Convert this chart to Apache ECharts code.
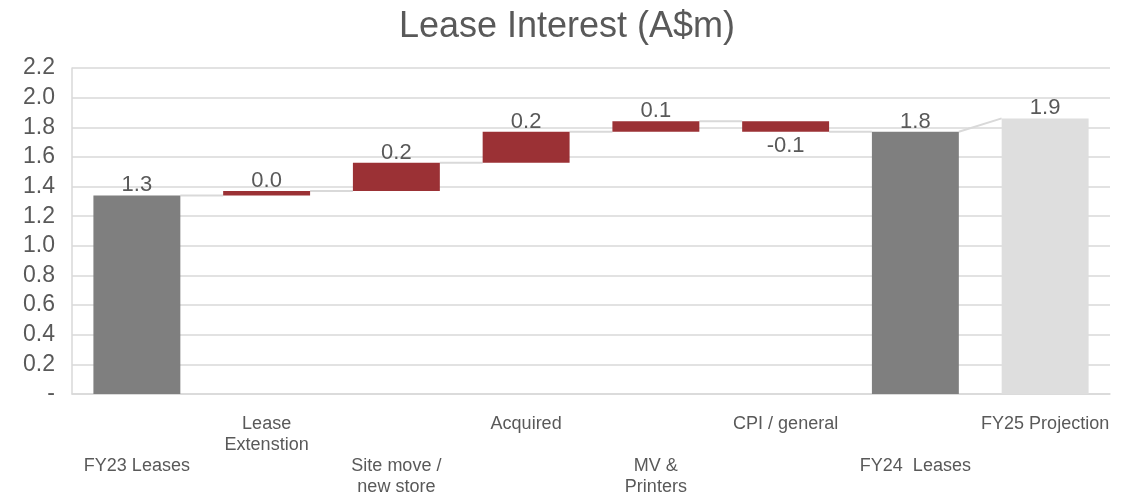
<!DOCTYPE html>
<html>
<head>
<meta charset="utf-8">
<script src="https://cdn.jsdelivr.net/npm/echarts@6/dist/echarts.min.js"></script>
<style>
  html, body { margin: 0; padding: 0; background: #fff; }
  #chart { width: 1134px; height: 499px; }
</style>
</head>
<body>
<div id="chart"></div>
<script>
// waterfall data
var categories = ['FY23 Leases', 'Lease\nExtenstion', 'Site move /\nnew store', 'Acquired',
                  'MV &\nPrinters', 'CPI / general', 'FY24  Leases', 'FY25 Projection'];
var values = [1.34, 0.03, 0.19, 0.21, 0.07, -0.07, 1.77, 1.86];
var kinds = ['total', 'delta', 'delta', 'delta', 'delta', 'delta', 'total', 'projection'];
var yTicks = [0, 0.2, 0.4, 0.6, 0.8, 1.0, 1.2, 1.4, 1.6, 1.8, 2.0, 2.2];

var colors = { total: '#7f7f7f', projection: '#dedede', delta: '#9b3135' };

// build invisible base + visible part of each bar
var baseData = [], barData = [], starts = [], ends = [];
var running = 0;
for (var i = 0; i < values.length; i++) {
    var v = values[i];
    var start, end, base, h;
    if (kinds[i] === 'delta') {
        start = running;
        end = running + v;
        base = Math.min(start, end);
        h = Math.abs(v);
    } else {
        start = v; // connectors meet totals at their top
        end = v;
        base = 0;
        h = v;
    }
    running = end;
    starts.push(start);
    ends.push(end);
    baseData.push(base);
    barData.push({
        value: h,
        raw: v,
        itemStyle: { color: colors[kinds[i]] },
        label: v < 0 ? { position: 'bottom', distance: 3 } : { position: 'top', distance: -1 }
    });
}

// connector lines between neighbouring bars
var connectors = [];
for (var j = 0; j < values.length - 1; j++) {
    connectors.push([j, ends[j], starts[j + 1]]);
}

var BAR_FRAC = 0.67;
var chart = echarts.init(document.getElementById('chart'));
chart.setOption({
    animation: false,
    textStyle: { fontFamily: 'Liberation Sans, Arial, sans-serif' },
    title: {
        text: 'Lease Interest (A$m)',
        left: 'center',
        top: 4,
        textStyle: { fontSize: 36, fontWeight: 'normal', color: '#595959' }
    },
    grid: { left: 72, right: 24, top: 68, bottom: 105 },
    xAxis: {
        type: 'category',
        data: categories,
        axisLine: { lineStyle: { color: '#d9d9d9', width: 1.5 } },
        axisTick: { show: false },
        axisLabel: {
            interval: 0,
            margin: 20,
            color: '#595959',
            fontSize: 18,
            lineHeight: 21,
            verticalAlign: 'top',
            formatter: function (val, idx) {
                return idx % 2 === 0 ? '\n\n' + val : val;
            }
        }
    },
    yAxis: {
        type: 'value',
        min: yTicks[0],
        max: yTicks[yTicks.length - 1],
        interval: 0.2,
        axisLine: { show: true, lineStyle: { color: '#d9d9d9', width: 1.5 } },
        axisTick: { show: false },
        splitLine: { lineStyle: { color: '#d9d9d9', width: 1.5 } },
        axisLabel: {
            color: '#595959',
            fontSize: 23,
            margin: 17,
            formatter: function (v) {
                return Math.abs(v) < 1e-9 ? '-' : v.toFixed(1);
            }
        }
    },
    series: [
        {
            type: 'custom',
            z: 1,
            silent: true,
            renderItem: function (params, api) {
                var i = api.value(0);
                var half = api.size([1, 0])[0] * BAR_FRAC / 2;
                var p1 = api.coord([i, api.value(1)]);
                var p2 = api.coord([i + 1, api.value(2)]);
                return {
                    type: 'line',
                    shape: { x1: p1[0] + half, y1: p1[1], x2: p2[0] - half, y2: p2[1] },
                    style: { stroke: '#d9d9d9', lineWidth: 2 }
                };
            },
            encode: { x: 0, y: 1 },
            data: connectors
        },
        {
            type: 'bar',
            stack: 'w',
            barWidth: (BAR_FRAC * 100) + '%',
            itemStyle: { color: 'transparent' },
            z: 2,
            silent: true,
            data: baseData
        },
        {
            type: 'bar',
            stack: 'w',
            z: 3,
            data: barData,
            label: {
                show: true,
                color: '#595959',
                fontSize: 22,
                formatter: function (p) {
                    return p.data.raw.toFixed(1);
                }
            }
        }
    ]
});
</script>
</body>
</html>
